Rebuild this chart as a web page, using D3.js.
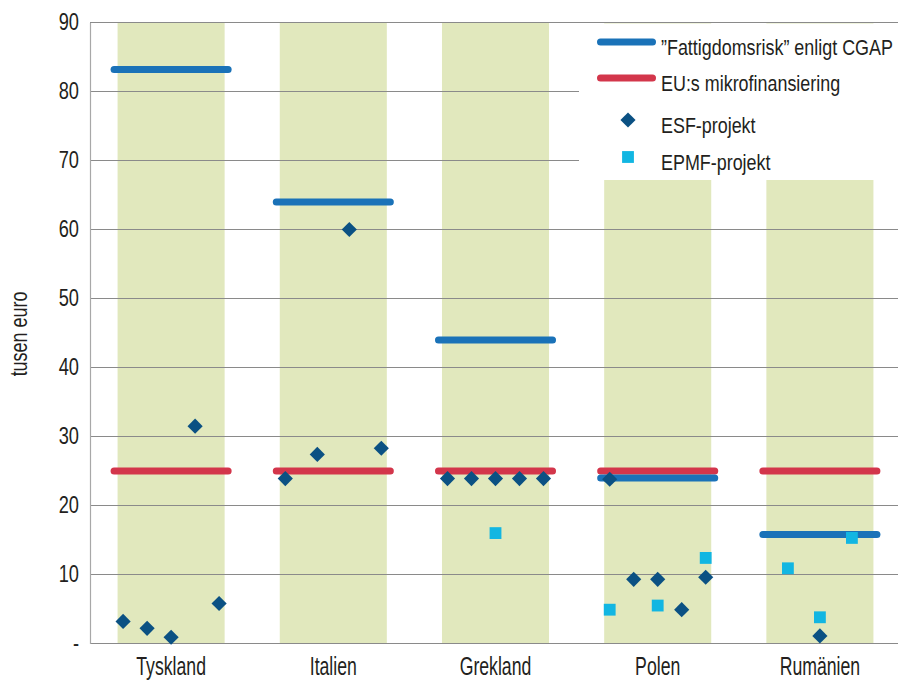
<!DOCTYPE html>
<html><head><meta charset="utf-8">
<script src="https://cdn.jsdelivr.net/npm/d3@7"></script>
<style>
body{margin:0;background:#fff}
svg{display:block}
text{font-family:"Liberation Sans","Arial",sans-serif;fill:#231f20}
</style>
</head><body>
<svg id="chart" width="898" height="681"></svg>
<script>
// ---- data ----
const countries = ["Tyskland", "Italien", "Grekland", "Polen", "Rumänien"];
const cgapValues = [83.2, 64, 44, 24, 15.8];        // "Fattigdomsrisk" enligt CGAP
const euMicroValues = [25, 25, 25, 25, 25];         // EU:s mikrofinansiering

const esfCountry = ["Tyskland","Tyskland","Tyskland","Tyskland","Tyskland",
                    "Italien","Italien","Italien","Italien",
                    "Grekland","Grekland","Grekland","Grekland","Grekland",
                    "Polen","Polen","Polen","Polen","Polen",
                    "Rumänien"];
const esfSlot = [-6,-3,0,3,6, -6,-2,2,6, -6,-3,0,3,6, -6,-3,0,3,6, 0];
const esfValue = [3.2,2.2,0.9,31.5,5.8, 23.9,27.4,60,28.3, 23.9,23.9,23.9,23.9,23.9, 23.8,9.3,9.3,4.9,9.6, 1.1];

const epmfCountry = ["Grekland","Polen","Polen","Polen","Rumänien","Rumänien","Rumänien"];
const epmfSlot = [0,-6,0,6,-4,0,4];
const epmfValue = [16,4.9,5.5,12.4,10.9,3.8,15.3];

const yTicks = [0,10,20,30,40,50,60,70,80,90];
const yTickLabels = ["-","10","20","30","40","50","60","70","80","90"];
const yTitle = "tusen euro";
const legendLabels = ["\u201DFattigdomsrisk\u201D enligt CGAP", "EU:s mikrofinansiering", "ESF-projekt", "EPMF-projekt"];

// ---- styles ----
const C = {
  band: "#e1e8bd", grid: "#8a8a8a", axis: "#a8a8a8",
  blue: "#1a72b8", red: "#d3364b", diamond: "#0b5183", square: "#12b6e2", text: "#231f20"
};

const svg = d3.select("#chart");
const W = 898, plotLeft = 90, plotTop = 22.5, plotBottom = 643.5;

const x = d3.scaleBand().domain(countries).range([plotLeft, 901]).paddingInner(0.34).paddingOuter(0.17);
const y = d3.scaleLinear().domain([0, 90]).range([plotBottom, plotTop]);
const slot = d3.scaleLinear().domain([-6, 6]).range([-48, 48]);
const cx = (c, s) => x(c) + x.bandwidth() / 2 + slot(s);

// bands
svg.append("g").selectAll("rect").data(countries).join("rect")
  .attr("x", d => x(d)).attr("width", x.bandwidth())
  .attr("y", y(90)).attr("height", y(0) - y(90))
  .attr("fill", C.band);

// grid lines
svg.append("g").selectAll("line").data(yTicks).join("line")
  .attr("x1", plotLeft).attr("x2", W)
  .attr("y1", d => y(d)).attr("y2", d => y(d))
  .attr("stroke", C.grid).attr("stroke-width", 1.2);

// left axis
const yAxis = d3.axisLeft(y).tickValues(yTicks).tickSize(0).tickPadding(0)
  .tickFormat((d, i) => yTickLabels[i]);
const ga = svg.append("g").attr("transform", `translate(${plotLeft},0)`).call(yAxis);
ga.select(".domain").attr("stroke", C.axis).attr("stroke-width", 1.2);
ga.selectAll("text").attr("font-size", 24).attr("font-family", null).style("fill", C.text)
  .attr("x", 0).attr("dy", "0.3em").attr("transform", "translate(-11,0) scale(0.76,1)");

// bottom axis labels
const xAxis = d3.axisBottom(x).tickSize(0).tickPadding(0);
const gx = svg.append("g").attr("transform", `translate(0,${plotBottom})`).call(xAxis);
gx.select(".domain").remove();
gx.selectAll("text").attr("font-size", 26).attr("font-family", null).style("fill", C.text)
  .attr("y", 0).attr("dy", 0).attr("transform", "translate(0,31.5) scale(0.68,1)");

// y title
svg.append("text").attr("transform", "translate(27,334) rotate(-90) scale(0.78,1)")
  .attr("text-anchor", "middle").attr("font-size", 23).text(yTitle);

// legend background
svg.append("rect").attr("x", 579).attr("y", 23.5).attr("width", W - 579).attr("height", 156.5).attr("fill", "#fff");

// EU micro (red) lines
const ext = 3.5;
svg.append("g").selectAll("line").data(countries).join("line")
  .attr("x1", d => x(d) - ext).attr("x2", d => x(d) + x.bandwidth() + ext)
  .attr("y1", (d, i) => y(euMicroValues[i])).attr("y2", (d, i) => y(euMicroValues[i]))
  .attr("stroke", C.red).attr("stroke-width", 7).attr("stroke-linecap", "round");

// CGAP (blue) lines
svg.append("g").selectAll("line").data(countries).join("line")
  .attr("x1", d => x(d) - ext).attr("x2", d => x(d) + x.bandwidth() + ext)
  .attr("y1", (d, i) => y(cgapValues[i])).attr("y2", (d, i) => y(cgapValues[i]))
  .attr("stroke", C.blue).attr("stroke-width", 7).attr("stroke-linecap", "round");

// ESF diamonds
const diamond = d3.symbol().type(d3.symbolSquare).size(115);
svg.append("g").selectAll("path").data(esfValue).join("path")
  .attr("d", diamond)
  .attr("transform", (d, i) => `translate(${cx(esfCountry[i], esfSlot[i])},${y(d)}) rotate(45)`)
  .attr("fill", C.diamond);

// EPMF squares
const square = d3.symbol().type(d3.symbolSquare).size(140);
svg.append("g").selectAll("path").data(epmfValue).join("path")
  .attr("d", square)
  .attr("transform", (d, i) => `translate(${cx(epmfCountry[i], epmfSlot[i])},${y(d)})`)
  .attr("fill", C.square);

// legend
const legY = [42, 78, 120, 157];
const lg = svg.append("g");
[C.blue, C.red].forEach((col, i) => {
  lg.append("line").attr("x1", 600.5).attr("x2", 652.5).attr("y1", legY[i]).attr("y2", legY[i])
    .attr("stroke", col).attr("stroke-width", 7).attr("stroke-linecap", "round");
});
lg.append("path").attr("d", diamond).attr("transform", `translate(628,${legY[2]}) rotate(45)`).attr("fill", C.diamond);
lg.append("path").attr("d", square).attr("transform", `translate(628,${legY[3]})`).attr("fill", C.square);
lg.selectAll("text").data(legendLabels).join("text")
  .attr("transform", (d, i) => `translate(661,${legY[i] + 12.5}) scale(0.815,1)`)
  .attr("font-size", 22).text(d => d);
</script>
</body></html>
